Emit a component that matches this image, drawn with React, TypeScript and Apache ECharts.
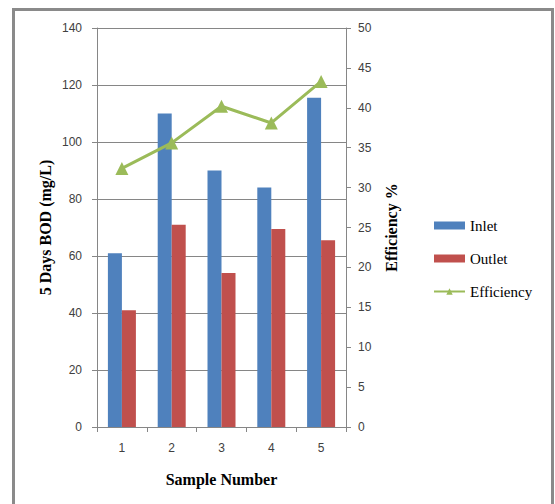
import React, { useEffect, useRef } from "react";
import * as echarts from "echarts";

const categories = ["1", "2", "3", "4", "5"];
const inlet = [61, 110, 90, 84, 115.5];
const outlet = [41, 71, 54, 69.5, 65.5];
const efficiency = [32.4, 35.6, 40.2, 38.1, 43.3];

const AXIS_GRAY = "#868686";
const LABEL_COLOR = "#404040";
const SANS = "'Liberation Sans', Arial, sans-serif";
const SERIF = "'Liberation Serif', 'Times New Roman', serif";

export default function App() {
  const ref = useRef<HTMLDivElement>(null);
  useEffect(() => {
    if (!ref.current) return;
    const chart = echarts.init(ref.current, undefined, { renderer: "svg" });
    const legendText = { fontFamily: SERIF, fontSize: 15, color: "#000" };
    chart.setOption({
      animation: false,
      backgroundColor: "#ffffff",
      textStyle: { fontFamily: SERIF },
      graphic: [
        {
          type: "rect",
          shape: { x: 13.5, y: 9.5, width: 539, height: 520 },
          style: { fill: "none", stroke: "#8a8a8a", lineWidth: 3 },
          silent: true,
        },
      ],
      grid: { left: 97, right: 209, top: 28, bottom: 77, containLabel: false },
      legend: {
        orient: "vertical",
        left: 428,
        top: 213,
        itemWidth: 31,
        itemHeight: 8,
        itemGap: 18,
        textStyle: legendText,
        data: [
          { name: "Inlet", icon: "rect" },
          { name: "Outlet", icon: "rect" },
          { name: "Efficiency" },
        ],
      },
      xAxis: {
        type: "category",
        data: categories,
        name: "Sample Number",
        nameLocation: "middle",
        nameGap: 44,
        nameTextStyle: { fontFamily: SERIF, fontSize: 16, fontWeight: "bold", color: "#000" },
        axisLine: { lineStyle: { color: AXIS_GRAY, width: 1 } },
        axisTick: { show: true, length: 5, lineStyle: { color: AXIS_GRAY } },
        axisLabel: { fontFamily: SANS, fontSize: 12, color: LABEL_COLOR, margin: 15 },
      },
      yAxis: [
        {
          type: "value",
          min: 0,
          max: 140,
          interval: 20,
          position: "left",
          name: "5 Days BOD (mg/L)",
          nameLocation: "middle",
          nameRotate: 90,
          nameGap: 44,
          nameTextStyle: { fontFamily: SERIF, fontSize: 16, fontWeight: "bold", color: "#000" },
          axisLine: { show: true, lineStyle: { color: AXIS_GRAY, width: 1 } },
          axisTick: { show: true, length: 5, lineStyle: { color: AXIS_GRAY } },
          axisLabel: { fontFamily: SANS, fontSize: 12, color: LABEL_COLOR, margin: 15 },
          splitLine: { show: true, lineStyle: { color: AXIS_GRAY, width: 1 } },
        },
        {
          type: "value",
          min: 0,
          max: 50,
          interval: 5,
          position: "right",
          name: "Efficiency %",
          nameLocation: "middle",
          nameRotate: 90,
          nameGap: 37,
          nameTextStyle: { fontFamily: SERIF, fontSize: 16, fontWeight: "bold", color: "#000" },
          axisLine: { show: true, lineStyle: { color: AXIS_GRAY, width: 1 } },
          axisTick: { show: true, length: 5, lineStyle: { color: AXIS_GRAY } },
          axisLabel: { fontFamily: SANS, fontSize: 12, color: LABEL_COLOR, margin: 12 },
          splitLine: { show: false },
        },
      ],
      series: [
        {
          name: "Inlet",
          type: "bar",
          data: inlet,
          barWidth: 14,
          barGap: "0%",
          itemStyle: { color: "#4F81BD" },
        },
        {
          name: "Outlet",
          type: "bar",
          data: outlet,
          barWidth: 14,
          barGap: "0%",
          itemStyle: { color: "#C0504D" },
        },
        {
          name: "Efficiency",
          type: "line",
          yAxisIndex: 1,
          data: efficiency,
          symbol: "triangle",
          symbolSize: 13,
          lineStyle: { color: "#9BBB59", width: 3 },
          itemStyle: { color: "#9BBB59" },
        },
      ],
    });
    return () => chart.dispose();
  }, []);
  return (
    <div
      ref={ref}
      style={{ position: "fixed", left: 0, top: 0, width: 555, height: 504 }}
    />
  );
}
